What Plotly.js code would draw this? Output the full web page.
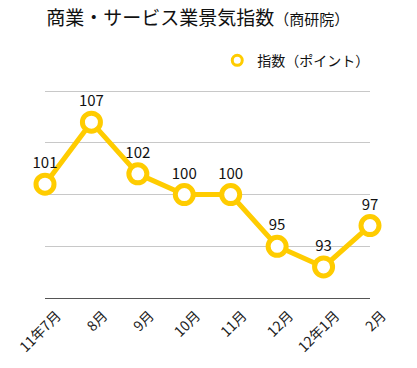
<!DOCTYPE html>
<html><head><meta charset="utf-8">
<script src="https://cdn.plot.ly/plotly-3.0.1.min.js"></script>
<style>html,body{margin:0;padding:0;background:#fff}#chart{width:417px;height:368px}</style>
</head><body><div id="chart"></div>
<script>
const categories = ['11年7月','8月','9月','10月','11月','12月','12年1月','2月'];
const values = [101,107,102,100,100,95,93,97];
const seriesName = '指数（ポイント）';
const font = '"Noto Sans CJK JP", "Noto Sans", sans-serif';
const trace = {
  type: 'scatter', mode: 'lines+markers+text',
  x: categories, y: values, name: seriesName, showlegend: false,
  text: values.map(String), textposition: 'top center',
  textfont: {family: font, size: 15, color: '#111'},
  line: {color: '#FFCC00', width: 5},
  marker: {symbol: 'circle', size: 18, color: '#fff', line: {color: '#FFCC00', width: 5}},
  cliponaxis: false
};
const legendTrace = {
  type: 'scatter', mode: 'markers', x: [null], y: [null], name: seriesName, showlegend: true,
  marker: {symbol: 'circle', size: 10, color: '#fff', line: {color: '#FFCC00', width: 3}}
};
const layout = {
  width: 417, height: 368,
  margin: {l: 45, r: 47, t: 88, b: 70},
  paper_bgcolor: '#fff', plot_bgcolor: '#fff',
  font: {family: font, size: 13, color: '#111'},
  title: {text: '商業・サービス業景気指数<span style="font-size:15px">（商研院）</span>',
          font: {family: font, size: 19, color: '#111'}, x: 0.47, xref: 'paper', xanchor: 'center', y: 0.95, yref: 'container', yanchor: 'middle'},
  showlegend: true,
  legend: {orientation: 'h', x: 0.53, xanchor: 'left', y: 1.13, yanchor: 'middle', font: {family: font, size: 14, color: '#111'}},
  xaxis: {type: 'category', range: [0, 7], showgrid: false, zeroline: false, showline: true, linecolor: '#555', linewidth: 1,
          ticks: '', tickangle: -45, tickfont: {family: font, size: 14, color: '#222'}, ticklabelshift: 12, ticklabelstandoff: 3, fixedrange: true},
  yaxis: {range: [90, 110.3], dtick: 5, tick0: 90, showgrid: true, gridcolor: '#c8c8c8', gridwidth: 1, zeroline: false, showline: false,
          showticklabels: false, ticks: '', fixedrange: true}
};
Plotly.newPlot('chart', [trace, legendTrace], layout, {displayModeBar: false, staticPlot: true});
</script></body></html>
